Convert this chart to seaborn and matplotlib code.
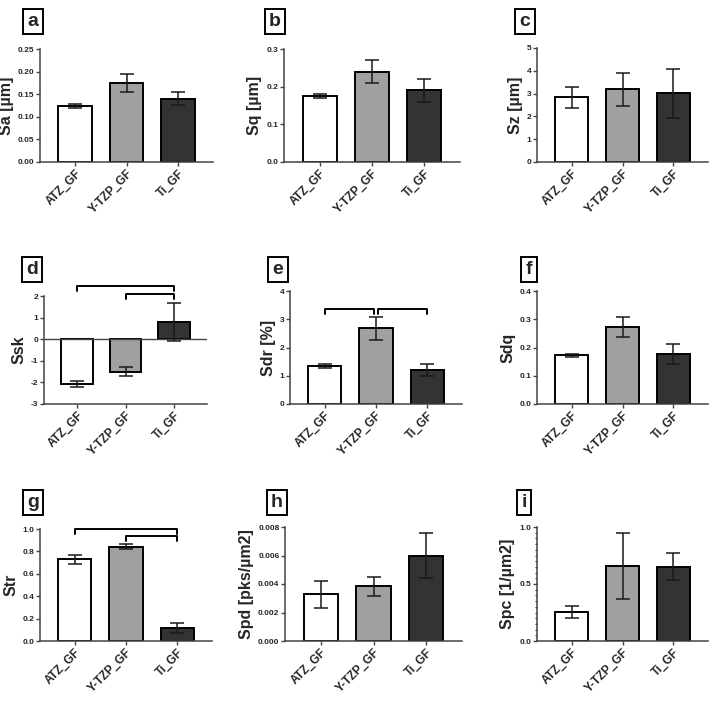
import pandas as pd
import matplotlib
matplotlib.use("Agg")
import matplotlib.pyplot as plt
import seaborn as sns
from matplotlib.ticker import MultipleLocator, FormatStrFormatter

# groups and bar colours
groups = ["ATZ_GF", "Y-TZP_GF", "Ti_GF"]
bar_colors = ["#ffffff", "#a0a0a0", "#333333"]

# mean and SD per parameter
sa_mean = [0.124, 0.174, 0.140]
sa_sd = [0.004, 0.020, 0.014]
sq_mean = [0.176, 0.240, 0.190]
sq_sd = [0.005, 0.030, 0.030]
sz_mean = [2.83, 3.18, 3.01]
sz_sd = [0.47, 0.73, 1.06]
ssk_mean = [-2.06, -1.50, 0.80]
ssk_sd = [0.13, 0.22, 0.88]
sdr_mean = [1.33, 2.68, 1.20]
sdr_sd = [0.07, 0.40, 0.20]
sdq_mean = [0.172, 0.273, 0.178]
sdq_sd = [0.006, 0.035, 0.035]
str_mean = [0.729, 0.842, 0.118]
str_sd = [0.042, 0.020, 0.047]
spd_mean = [0.00327, 0.00383, 0.00599]
spd_sd = [0.00096, 0.00068, 0.00160]
spc_mean = [0.252, 0.656, 0.652]
spc_sd = [0.052, 0.290, 0.120]

# significance brackets: (group from, group to, bar height, leg end)
ssk_brackets = [(0, 2, 2.46, 2.21), (1, 2, 2.11, 1.85)]
sdr_brackets = [(0, 0.96, 3.36, 3.19), (1.04, 2, 3.36, 3.19)]
str_brackets = [(0, 2, 1.0, 0.955), (1, 2, 0.937, 0.896)]

sns.set_style("ticks")
plt.rcParams["font.family"] = ["Liberation Sans", "DejaVu Sans"]
plt.rcParams["font.weight"] = "bold"

W, H = 709, 701
fig = plt.figure(figsize=(W / 100, H / 100), dpi=100)

panels = [
    # letter, ylabel, mean, sd, ymin, ymax, step, fmt, minor, brackets, box px, axes px
    ("a", "Sa [µm]", sa_mean, sa_sd, 0, 0.25, 0.05, "%.2f", None, [], (33, 30), (40, 49, 213, 162)),
    ("b", "Sq [µm]", sq_mean, sq_sd, 0, 0.3, 0.1, "%.1f", None, [], (275, 30), (284, 49, 460, 162)),
    ("c", "Sz [µm]", sz_mean, sz_sd, 0, 5, 1, "%d", None, [], (525, 30), (537, 48, 708, 162)),
    ("d", "Ssk", ssk_mean, ssk_sd, -3, 2, 1, "%d", None, ssk_brackets, (32, 278), (44, 296, 207, 404)),
    ("e", "Sdr [%]", sdr_mean, sdr_sd, 0, 4, 1, "%d", None, sdr_brackets, (278, 278), (290, 291, 462, 404)),
    ("f", "Sdq", sdq_mean, sdq_sd, 0, 0.4, 0.1, "%.1f", None, [], (529, 278), (537, 291, 708, 404)),
    ("g", "Str", str_mean, str_sd, 0, 1.0, 0.2, "%.1f", None, str_brackets, (33, 511), (40, 529, 212, 641)),
    ("h", "Spd [pks/µm2]", spd_mean, spd_sd, 0, 0.008, 0.002, "%.3f", None, [], (277, 511), (285, 527, 462, 641)),
    ("i", "Spc [1/µm2]", spc_mean, spc_sd, 0, 1.0, 0.5, "%.1f", 0.05, [], (524, 511), (537, 527, 708, 641)),
]

for letter, ylabel, mean, sd, ymin, ymax, step, fmt, minor, brackets, box, pos in panels:
    x0, y0, x1, y1 = pos
    ax = fig.add_axes([x0 / W, (H - y1) / H, (x1 - x0) / W, (y1 - y0) / H])
    df = pd.DataFrame({"group": groups, "value": mean})
    sns.barplot(data=df, x="group", y="value", hue="group", palette=bar_colors,
                order=groups, hue_order=groups, errorbar=None, legend=False,
                width=0.65, edgecolor="black", linewidth=1.4, ax=ax)
    ax.errorbar(range(len(groups)), mean, yerr=sd, fmt="none", ecolor="#1a1a1a",
                elinewidth=1.1, capsize=5, capthick=1.1, zorder=5)
    if ymin < 0:
        ax.axhline(0, color="#444444", lw=1.0, zorder=1)

    for g1, g2, top, leg in brackets:
        ax.plot([g1, g1, g2, g2], [leg, top, top, leg], color="black", lw=1.4,
                clip_on=False, zorder=6)

    ax.set_xlim(-0.68, 2.68)
    ax.set_ylim(ymin, ymax)
    ax.yaxis.set_major_locator(MultipleLocator(step))
    ax.yaxis.set_major_formatter(FormatStrFormatter(fmt))
    if minor:
        ax.yaxis.set_minor_locator(MultipleLocator(minor))
        ax.tick_params(axis="y", which="minor", length=1.8, width=0.8, color="#444444")

    ax.set_xlabel("")
    ax.set_ylabel(ylabel, fontsize=11.5, fontweight="bold", labelpad=3)
    ax.tick_params(axis="y", which="major", labelsize=6, length=3, width=1,
                   color="#444444", pad=1)
    ax.tick_params(axis="x", labelsize=8.5, length=3, width=1, color="#444444", pad=1)
    plt.setp(ax.get_xticklabels(), rotation=45, ha="right", rotation_mode="anchor",
             fontweight="bold")
    plt.setp(ax.get_yticklabels(), fontweight="bold")
    for s in ["top", "right"]:
        ax.spines[s].set_visible(False)
    for s in ["left", "bottom"]:
        ax.spines[s].set_color("#444444")
        ax.spines[s].set_linewidth(1.1)

    fig.text(box[0] / W, (H - box[1]) / H, letter, fontsize=14, fontweight="bold",
             ha="center", va="bottom",
             bbox=dict(boxstyle="square,pad=0.22", facecolor="white",
                       edgecolor="black", linewidth=1.4))

fig.savefig("out.png", dpi=100)
